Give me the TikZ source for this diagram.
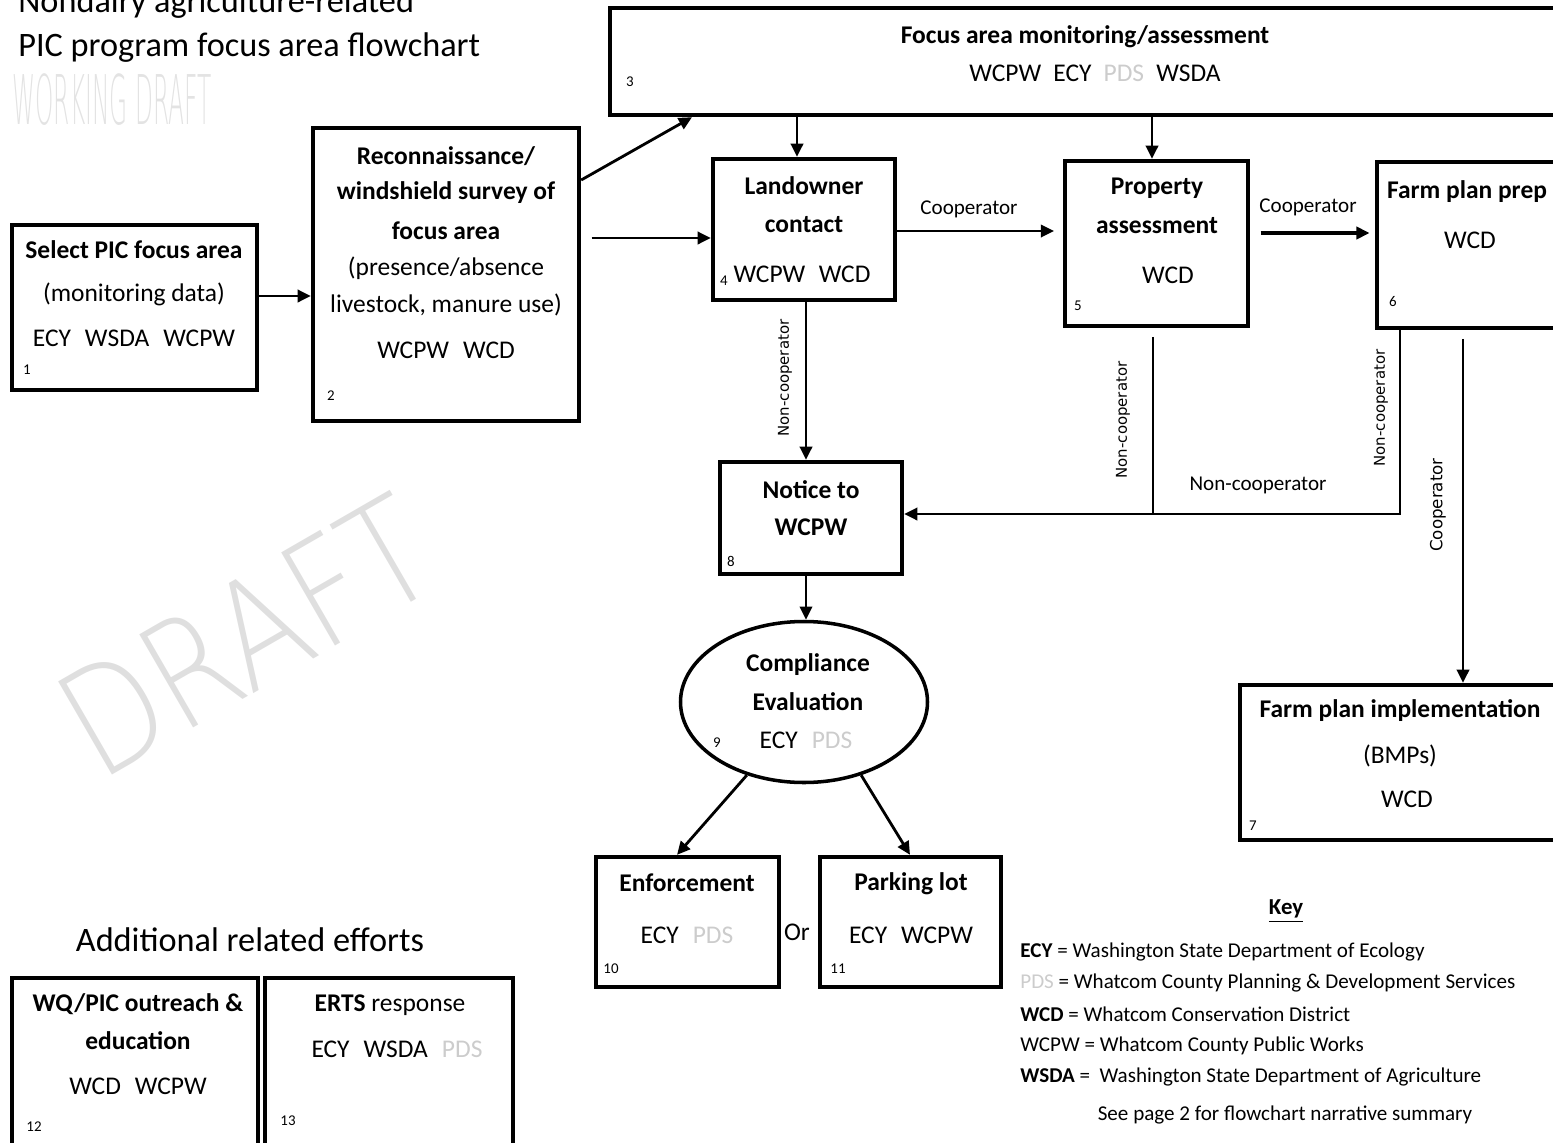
\documentclass[tikz,border=0pt]{standalone}
\usepackage{fontspec}
\setmainfont{Carlito}
\newfontfamily\djv{DejaVu Sans}
\newfontfamily\wmk{DejaVu Sans ExtraLight}
\usetikzlibrary{shapes.geometric,arrows.meta}

\newcommand\fs[1]{\fontsize{#1}{#1}\selectfont}
\newcommand\gp{\hspace{0.55em}}
\newcommand\pds{\textcolor{gray!40}{PDS}}

\tikzset{
  box/.style={draw, line width=2.5pt, inner sep=0pt},
  dims/.style 2 args={minimum width=#1*0.02cm, minimum height=#2*0.02cm},
  hd/.style={font=\bfseries\fs{14.5}, inner sep=1pt},
  tx/.style={font=\fs{14.5}, inner sep=1pt},
  ttl/.style={font=\fs{19.5}, inner sep=0pt},
  num/.style={font=\fs{8.5}, inner sep=0pt},
  lab/.style={font=\fs{12}, inner sep=0pt},
  vlab/.style={font=\djv\fs{8.5}, rotate=90, inner sep=0pt},
  keyln/.style={font=\fs{12}, anchor=west, inner sep=0pt},
  conn/.style={line width=1.6pt},
  arr/.style={conn, -{Triangle[length=7.5pt,width=7pt]}}
}

\begin{document}
\begin{tikzpicture}[x=0.02cm, y=-0.02cm]
  \useasboundingbox (0,0) rectangle (1553,1143);
  \clip (0,0) rectangle (1553,1143);

  % title and watermarks
  \node[ttl, anchor=west] (title1) at (18,4) {Nondairy agriculture-related};
  \node[ttl, anchor=west] (title2) at (18,48) {PIC program focus area flowchart};
  \node[font=\wmk\fs{39}, text=gray!22, inner sep=0pt] (wdraft) at (112,100) {\scalebox{0.34}[1]{WORKING DRAFT}};
  \node[font=\wmk\fs{84}, text=gray!25, rotate=30, inner sep=0pt] (draft) at (246,636) {\scalebox{0.83}[1]{DRAFT}};

  % boxes
  \node[box, dims={245}{165}] (b1) at (134.5,307.5) {};
  \node[box, dims={266}{293}] (b2) at (446,274.5) {};
  \node[box, dims={990}{107}] (b3) at (1105,61.5) {};
  \node[box, dims={182}{141}] (b4) at (804,229.5) {};
  \node[box, dims={183}{165}] (b5) at (1156.5,243.5) {};
  \node[box, dims={223}{166}] (b6) at (1488.5,245) {};
  \node[box, dims={360}{155}] (b7) at (1420,762.5) {};
  \node[box, dims={182}{112}] (b8) at (811,518) {};
  \node[box, ellipse, line width=2pt, dims={247}{161}] (e9) at (804,702) {};
  \node[box, dims={183}{130}] (b10) at (687.5,922) {};
  \node[box, dims={181}{130}] (b11) at (910.5,922) {};
  \node[box, dims={246}{182}] (b12) at (135,1069) {};
  \node[box, dims={248}{182}] (b13) at (389,1069) {};

  % box texts
  \node[hd] (t1a) at (134,250) {Select PIC focus area};
  \node[tx] (t1b) at (134,294) {(monitoring data)};
  \node[tx] (t1c) at (134,338) {ECY\gp WSDA\gp WCPW};
  \node[hd] (t2a) at (446,156) {Reconnaissance/};
  \node[hd] (t2b) at (446,193) {windshield survey of};
  \node[hd] (t2c) at (446,231) {focus area};
  \node[tx] (t2d) at (446,268) {(presence/absence};
  \node[tx] (t2e) at (446,305) {livestock, manure use)};
  \node[tx] (t2f) at (446,350) {WCPW\gp WCD};
  \node[hd] (t3a) at (1085,37) {Focus area monitoring/assessment};
  \node[tx] (t3b) at (1095,73) {WCPW\hspace{0.25em} ECY\hspace{0.25em} \pds\hspace{0.25em} WSDA};
  \node[hd] (t4a) at (804,186) {Landowner};
  \node[hd] (t4b) at (804,225) {contact};
  \node[tx] (t4c) at (802,274) {WCPW\hspace{0.3em} WCD};
  \node[hd] (t5a) at (1157,188) {Property};
  \node[hd] (t5b) at (1157,226) {assessment};
  \node[tx] (t5c) at (1168,275) {WCD};
  \node[hd] (t6a) at (1467,192) {Farm plan prep};
  \node[tx] (t6b) at (1470,240) {WCD};
  \node[hd] (t7a) at (1400,711) {Farm plan implementation};
  \node[tx] (t7b) at (1400,756) {(BMPs)};
  \node[tx] (t7c) at (1407,799) {WCD};
  \node[hd] (t8a) at (811,490) {Notice to};
  \node[hd] (t8b) at (811,527) {WCPW};
  \node[hd] (t9a) at (808,665) {Compliance};
  \node[hd] (t9b) at (808,702) {Evaluation};
  \node[tx] (t9c) at (806,740) {ECY\gp\pds};
  \node[hd] (t10a) at (687,883) {Enforcement};
  \node[tx] (t10b) at (687,935) {ECY\gp\pds};
  \node[hd] (t11a) at (911,884) {Parking lot};
  \node[tx] (t11b) at (911,935) {ECY\gp WCPW};
  \node[tx] (orlbl) at (797,932) {Or};
  \node[hd] (t12a) at (138,1004) {WQ/PIC outreach \&};
  \node[hd] (t12b) at (138,1041) {education};
  \node[tx] (t12c) at (138,1086) {WCD\gp WCPW};
  \node[tx] (t13a) at (390,1005) {\textbf{ERTS} response};
  \node[tx] (t13b) at (397,1049) {ECY\gp WSDA\gp\pds};

  % box numbers
  \node[num] (n1) at (27,370) {1};
  \node[num] (n2) at (331,396) {2};
  \node[num] (n3) at (630,82) {3};
  \node[num] (n4) at (724,281) {4};
  \node[num] (n5) at (1078,306) {5};
  \node[num] (n6) at (1393,302) {6};
  \node[num] (n7) at (1253,826) {7};
  \node[num] (n8) at (731,561) {8};
  \node[num] (n9) at (717,743) {9};
  \node[num] (n10) at (611,969) {10};
  \node[num] (n11) at (838,969) {11};
  \node[num] (n12) at (34,1127) {12};
  \node[num] (n13) at (288,1121) {13};

  % connectors
  \coordinate (j5) at (1153,514);
  \coordinate (j6) at (1400,514);
  \draw[arr] (b1.east |- 0,296) -- (b2.west |- 0,296);
  \draw[arr] (b2.east |- 0,180) -- (b3.south -| 692,0);
  \draw[arr, shorten <=6pt] (b2.east |- 0,238) -- (b4.west |- 0,238);
  \draw[arr] (b3.south -| 797,0) -- (b4.north -| 797,0);
  \draw[arr] (b3.south -| 1152,0) -- (b5.north -| 1152,0);
  \draw[arr, shorten >=5pt] (b4.east |- 0,231) -- (b5.west |- 0,231);
  \draw[arr, line width=2.6pt, shorten <=6pt, shorten >=3pt] (b5.east |- 0,233) -- (b6.west |- 0,233);
  \draw[arr] (b4.south -| 806,0) -- (b8.north -| 806,0);
  \draw[conn, shorten <=5pt] (b5.south -| j5) -- (j5);
  \draw[arr] (b6.south -| j6) -- (j6) -- (b8.east |- j6);
  \draw[arr, shorten <=5pt] (b6.south -| 1463,0) -- (b7.north -| 1463,0);
  \draw[arr] (b8.south -| 806,0) -- (e9.north -| 806,0);
  \draw[arr] (e9.-128) -- (b10.north -| 677,0);
  \draw[arr] (e9.-52) -- (b11.north -| 910,0);

  % connector labels
  \node[lab] (c45) at (969,209) {Cooperator};
  \node[lab] (c56) at (1308,207) {Cooperator};
  \node[vlab] (nc4) at (785,378) {Non-cooperator};
  \node[vlab] (nc5) at (1123,420) {Non-cooperator};
  \node[vlab] (nc6) at (1381,408) {Non-cooperator};
  \node[lab] (ncj) at (1258,485) {Non-cooperator};
  \node[vlab, font=\djv\fs{9.5}] (c67) at (1438,505) {Cooperator};

  % additional efforts and key
  \node[ttl] (addl) at (250,940) {Additional related efforts};
  \node[font=\bfseries\fs{13}] (keyhd) at (1286,911) {\underline{Key}};
  \node[keyln] (k1) at (1020,952) {\textbf{ECY} = Washington State Department of Ecology};
  \node[keyln] (k2) at (1020,983) {\pds{} = Whatcom County Planning \& Development Services};
  \node[keyln] (k3) at (1020,1014) {\textbf{WCD} = Whatcom Conservation District};
  \node[keyln] (k4) at (1020,1046) {WCPW = Whatcom County Public Works};
  \node[keyln] (k5) at (1020,1077) {\textbf{WSDA} =\ \ Washington State Department of Agriculture};
  \node[lab] (seep) at (1285,1115) {See page 2 for flowchart narrative summary};
\end{tikzpicture}
\end{document}
